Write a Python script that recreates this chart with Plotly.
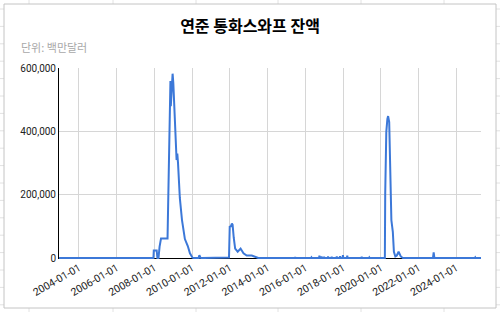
import plotly.graph_objects as go

# ---- data (millions of USD) ----
dates = [
    "2002-12-11", "2007-12-12", "2007-12-19", "2008-02-13", "2008-02-27", "2008-03-19",
    "2008-04-09", "2008-05-07", "2008-09-10", "2008-09-24", "2008-10-01", "2008-10-15",
    "2008-10-22", "2008-11-05", "2008-11-12", "2008-11-26", "2008-12-10", "2008-12-17",
    "2008-12-31", "2009-01-14", "2009-02-04", "2009-03-04", "2009-03-18", "2009-04-01",
    "2009-05-06", "2009-06-17", "2009-08-12", "2009-10-07", "2009-11-18", "2010-01-06",
    "2010-02-03", "2010-05-05", "2010-05-19", "2010-06-09", "2010-06-30",
    "2011-12-07", "2011-12-14", "2011-12-28", "2012-01-18", "2012-02-08", "2012-02-22",
    "2012-03-14", "2012-04-11", "2012-05-30", "2012-07-25", "2012-09-19", "2012-11-21",
    "2013-02-27", "2013-05-01", "2013-06-12", "2013-07-03",
    "2015-01-21", "2015-01-28", "2015-02-04", "2015-06-10", "2015-06-17", "2015-06-24",
    "2016-04-20", "2016-04-27", "2016-05-04",
    "2016-09-21", "2016-09-28", "2016-10-05", "2016-11-02", "2016-11-09", "2016-11-16",
    "2016-12-21", "2016-12-28", "2017-01-04", "2017-03-08", "2017-03-15", "2017-03-22",
    "2017-05-17", "2017-05-24", "2017-05-31", "2017-08-23", "2017-08-30", "2017-09-06",
    "2017-10-25", "2017-11-01", "2017-11-08", "2017-12-20", "2017-12-27", "2018-01-03",
    "2018-03-14", "2018-03-21", "2018-03-28", "2018-12-19", "2018-12-26", "2019-01-02",
    "2019-05-15", "2019-05-22", "2019-05-29",
    "2020-03-11", "2020-03-18", "2020-03-25", "2020-04-01", "2020-04-15", "2020-05-06",
    "2020-05-20", "2020-06-10", "2020-06-24", "2020-07-08", "2020-07-22", "2020-08-19",
    "2020-09-09", "2020-10-07", "2020-11-04", "2020-12-09", "2021-01-20", "2021-03-03",
    "2022-10-05", "2022-10-19", "2022-11-02",
    "2024-12-25", "2025-01-01", "2025-01-08", "2025-04-23",
]
values = [
    0, 0, 24000, 24000, 0, 0,
    36000, 62000, 62000, 190000, 290000, 420000,
    520000, 560000, 480000, 540000, 570000, 583000,
    553000, 500000, 400000, 310000, 330000, 300000,
    190000, 120000, 60000, 38000, 15000, 1000,
    0, 0, 9000, 1000, 0,
    0, 2000, 99000, 100000, 109000, 105000,
    65000, 30000, 20000, 30000, 15000, 8000,
    8000, 3000, 500, 0,
    0, 2000, 0, 0, 3000, 0,
    0, 2000, 0,
    0, 8000, 0, 0, 5000, 0,
    0, 4000, 0, 0, 5000, 0,
    0, 4000, 0, 0, 5000, 0,
    0, 6000, 0, 0, 9000, 0,
    0, 8000, 0, 0, 4000, 0,
    0, 2000, 0,
    0, 0, 206000, 358000, 400000, 440000,
    449000, 430000, 280000, 160000, 120000, 83000,
    20000, 5000, 8000, 20000, 5000, 0,
    0, 18000, 0,
    0, 2000, 0, 0,
]

tick_labels = ["2004-01-01", "2006-01-01", "2008-01-01", "2010-01-01", "2012-01-01",
               "2014-01-01", "2016-01-01", "2018-01-01", "2020-01-01", "2022-01-01",
               "2024-01-01"]
y_ticks = [0, 200000, 400000, 600000]

title_text = "연준 통화스와프 잔액"
subtitle_text = "단위: 백만달러"

# ---- layout geometry ----
W, H = 500, 312
ML, MR, MT, MB = 59, 19, 68, 53
PW, PH = W - ML - MR, H - MT - MB


def px(x):
    return (x - ML) / PW


def py(y):
    return 1 - (y - MT) / PH


fig = go.Figure()
fig.add_trace(go.Scatter(
    x=dates, y=values, mode="lines",
    line=dict(color="#3c78d8", width=2),
    hoverinfo="skip", showlegend=False,
))

shapes = []
grid_col = "#e2e2e2"
# spreadsheet grid outside the chart box
for gx in [29, 113, 196, 278, 361, 444]:
    shapes.append(dict(type="line", xref="paper", yref="paper",
                       x0=px(gx), x1=px(gx), y0=py(0), y1=py(4),
                       line=dict(color=grid_col, width=1), layer="below"))
    shapes.append(dict(type="line", xref="paper", yref="paper",
                       x0=px(gx), x1=px(gx), y0=py(308), y1=py(312),
                       line=dict(color=grid_col, width=1), layer="below"))
gy = 9.0
while gy < 308:
    for (a, b) in [(0, 4), (496, 500)]:
        shapes.append(dict(type="line", xref="paper", yref="paper",
                           x0=px(a), x1=px(b), y0=py(gy), y1=py(gy),
                           line=dict(color=grid_col, width=1), layer="below"))
    gy += 17.4
# chart box border
shapes.append(dict(type="rect", xref="paper", yref="paper",
                   x0=px(4), x1=px(496), y0=py(308), y1=py(4),
                   line=dict(color="#c4c4c4", width=1), fillcolor="rgba(0,0,0,0)",
                   layer="below"))

fig.update_layout(
    width=W, height=H,
    margin=dict(l=ML, r=MR, t=MT, b=MB),
    paper_bgcolor="white", plot_bgcolor="white",
    title=dict(text="<b>" + title_text + "</b>", xref="container", x=0.5, xanchor="center",
               yref="container", y=1 - 26 / H, yanchor="middle",
               font=dict(family="Noto Sans CJK KR", size=16, color="#000000")),
    annotations=[dict(text=subtitle_text, xref="paper", yref="paper",
                      x=px(19), y=py(47), xanchor="left", yanchor="middle",
                      showarrow=False,
                      font=dict(family="Noto Sans CJK KR", size=11, color="#a8a8a8"))],
    shapes=shapes,
    xaxis=dict(
        type="date",
        range=["2002-12-10", "2025-04-22"],
        tickvals=tick_labels, ticktext=tick_labels,
        tickangle=-30,
        showgrid=True, gridcolor="#d6d6d6", gridwidth=1,
        showline=False, zeroline=False, ticks="",
        tickfont=dict(family="Roboto", size=10.5, color="#222222"),
    ),
    yaxis=dict(
        range=[-3000, 601000],
        tickvals=y_ticks, tickformat=",d",
        showgrid=True, gridcolor="#d6d6d6", gridwidth=1,
        showline=True, linecolor="#000000", linewidth=1,
        zeroline=True, zerolinecolor="#000000", zerolinewidth=1,
        ticks="",
        tickfont=dict(family="Roboto", size=10, color="#222222"),
    ),
)

fig.write_html("out.html")
